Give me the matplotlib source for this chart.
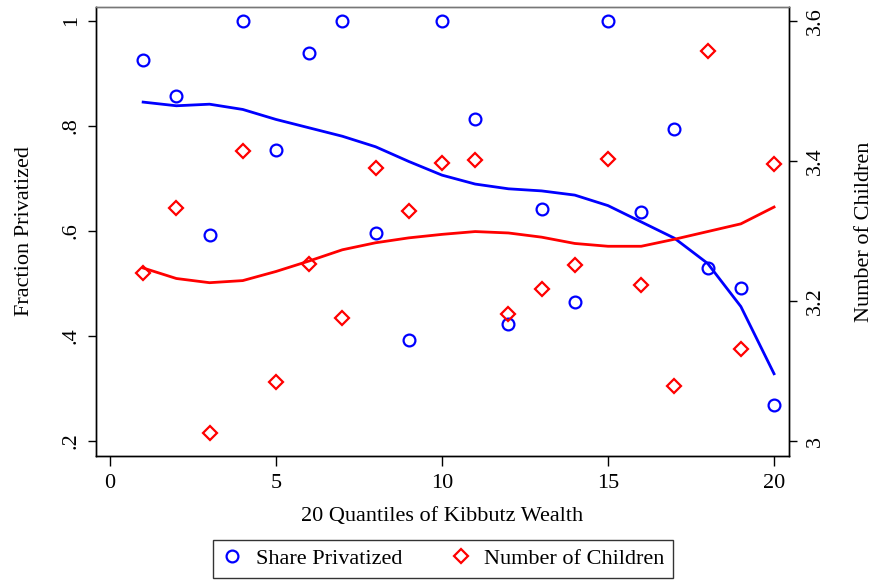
import numpy as np
import matplotlib.pyplot as plt

plt.rcParams['font.family'] = ['Liberation Serif', 'DejaVu Serif']

quantile = np.arange(1, 21)
share_privatized = [0.926, 0.857, 0.592, 1.0, 0.753, 0.938, 1.0, 0.595, 0.392, 1.0,
                    0.813, 0.422, 0.641, 0.464, 1.0, 0.635, 0.793, 0.530, 0.492, 0.268]
share_smooth = [0.845, 0.838, 0.841, 0.831, 0.812, 0.796, 0.780, 0.760, 0.732, 0.706,
                0.689, 0.680, 0.676, 0.668, 0.648, 0.617, 0.586, 0.538, 0.456, 0.328]
children = [3.240, 3.332, 3.011, 3.414, 3.084, 3.252, 3.176, 3.390, 3.328, 3.397,
            3.401, 3.182, 3.217, 3.251, 3.402, 3.222, 3.079, 3.557, 3.132, 3.396]
children_smooth = [3.247, 3.232, 3.226, 3.229, 3.242, 3.257, 3.273, 3.283, 3.290, 3.295,
                   3.299, 3.297, 3.291, 3.282, 3.278, 3.278, 3.288, 3.299, 3.310, 3.334]

x_ticks = [0, 5, 10, 15, 20]
left_ticks = [0.2, 0.4, 0.6, 0.8, 1.0]
left_labels = ['.2', '.4', '.6', '.8', '1']
right_ticks = [3.0, 3.2, 3.4, 3.6]
right_labels = ['3', '3.2', '3.4', '3.6']

fig = plt.figure(figsize=(8.75, 5.82), dpi=100)
ax = fig.add_axes([0.1097, 0.2165, 0.792, 0.7715])
ax2 = ax.twinx()

blue = '#0000ff'
red = '#ff0000'

ax.plot(quantile, share_privatized, 'o', ms=8.5, mfc='none', mec=blue, mew=1.6, zorder=3)
ax.plot(quantile, share_smooth, '-', color=blue, lw=2.0, zorder=2)
ax2.plot(quantile, children, 'D', ms=7.5, mfc='none', mec=red, mew=1.6, zorder=3)
ax2.plot(quantile, children_smooth, '-', color=red, lw=2.0, zorder=2)

ax.set_xlim(-0.42, 20.45)
ax.set_ylim(0.1715, 1.026)
ax2.set_ylim(2.9786, 3.6196)

fs = 16
ax.set_xticks(x_ticks)
ax.set_xticklabels([str(t) for t in x_ticks], fontsize=fs)
ax.set_yticks(left_ticks)
ax.set_yticklabels(left_labels, fontsize=fs, rotation=90, va='center')
ax2.set_yticks(right_ticks)
ax2.set_yticklabels(right_labels, fontsize=fs, rotation=90, va='center')

ax.tick_params(axis='x', direction='out', length=7, width=1, pad=6)
ax.tick_params(axis='y', direction='out', length=6, width=1, pad=5)
ax2.tick_params(axis='y', direction='out', length=6, width=1, pad=6)

ax.set_xlabel('20 Quantiles of Kibbutz Wealth', fontsize=fs, labelpad=10)
ax.set_ylabel('Fraction Privatized', fontsize=fs, labelpad=20)
ax2.set_ylabel('Number of Children', fontsize=fs, rotation=90, labelpad=22)

for a in (ax, ax2):
    for s in a.spines.values():
        s.set_linewidth(1.0)
        s.set_color('black')
    a.spines['top'].set_color('#777777')

handles = [plt.Line2D([], [], ls='none', marker='o', ms=8.5, mfc='none', mec=blue, mew=1.6),
           plt.Line2D([], [], ls='none', marker='D', ms=7.5, mfc='none', mec=red, mew=1.6)]
leg = fig.legend(handles, ['Share Privatized', 'Number of Children'], loc='lower center',
                 bbox_to_anchor=(0.5068, -0.012), ncol=2, fontsize=fs, frameon=True,
                 fancybox=False, edgecolor='black', handlelength=0.9, handletextpad=0.6,
                 columnspacing=2.2, borderpad=0.4)
leg.get_frame().set_linewidth(1.0)

fig.savefig('out.png', dpi=100)
